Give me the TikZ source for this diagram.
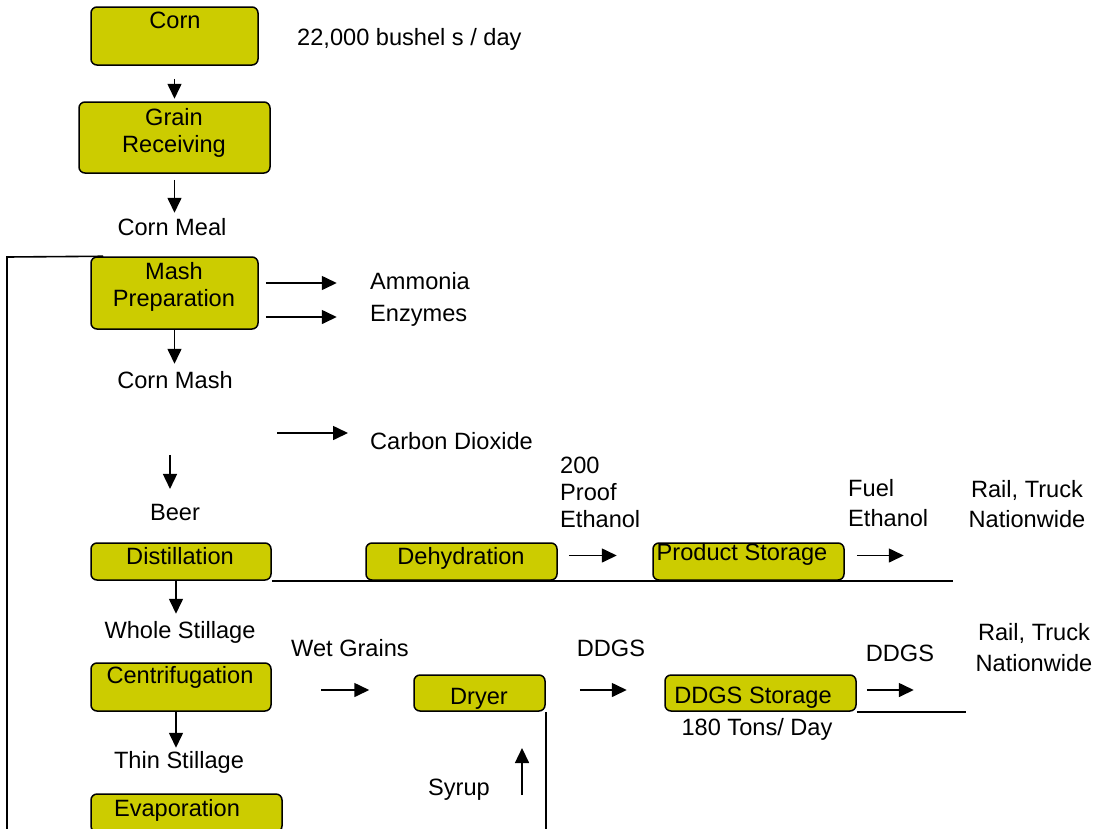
\documentclass[tikz,border=0pt]{standalone}
\usepackage{fontspec}
\setmainfont{Liberation Sans}
\usetikzlibrary{arrows.meta}
\definecolor{boxfill}{RGB}{204,204,0}
\tikzset{%
    blk/.style={rectangle, draw, fill=boxfill, line width=1.5pt, rounded corners=6pt, inner sep=0pt},
    txt/.style={inner sep=0pt, font=\fontsize{23.6}{27}\selectfont},
    lbl/.style={txt, text height=17pt, text depth=4.7pt},
    lin/.style={line width=1.6pt},
    arw/.style={line width=1.6pt, -{Triangle[length=15pt, width=14pt]}},
}

\begin{document}
\begin{tikzpicture}[x=1pt, y=-1pt]
    \useasboundingbox (0,0) rectangle (1100,828);
    \clip (0,0) rectangle (1100,828);
    % process boxes
    \node[blk, minimum width=167, minimum height=58] (corn) at (174.5,36) {};
    \node[blk, minimum width=191, minimum height=71] (grain) at (174.5,137.5) {};
    \node[blk, minimum width=167, minimum height=72] (mash) at (174.5,293) {};
    \node[blk, minimum width=180, minimum height=37] (distil) at (181,561.5) {};
    \node[blk, minimum width=191, minimum height=37] (dehyd) at (461.5,561.5) {};
    \node[blk, minimum width=191, minimum height=37] (prod) at (748.5,561.5) {};
    \node[blk, minimum width=180, minimum height=48] (centrif) at (181,687) {};
    \node[blk, minimum width=191, minimum height=38] (evap) at (186.5,813) {};
    \node[blk, minimum width=131, minimum height=36] (dryer) at (479.5,693) {};
    \node[blk, minimum width=191, minimum height=36] (ddgsst) at (760.5,693) {};
    % box texts
    \node[lbl] (cornlbl) at (175,22) {Corn};
    \node[txt, align=center] (grainlbl) at (174,133) {Grain\\Receiving};
    \node[txt, align=center] (mashlbl) at (174,287) {Mash\\Preparation};
    \node[lbl] (distillbl) at (180,558) {Distillation};
    \node[lbl] (dehydlbl) at (461,558) {Dehydration};
    \node[lbl] (prodlbl) at (742,554) {Product Storage};
    \node[lbl] (centriflbl) at (180,677) {Centrifugation};
    \node[lbl] (evaplbl) at (177,810) {Evaporation};
    \node[lbl] (dryerlbl) at (479,698) {Dryer};
    \node[lbl] (ddgsstlbl) at (753,697) {DDGS Storage};
    % stream texts
    \node[lbl, anchor=west] (rate) at (297,39) {22,000 bushel s / day};
    \node[lbl] (meal) at (172,229) {Corn Meal};
    \node[lbl, anchor=west] (amm) at (370,283) {Ammonia};
    \node[lbl, anchor=west] (enz) at (370,315) {Enzymes};
    \node[lbl] (cmash) at (175,382) {Corn Mash};
    \node[lbl, anchor=west] (co2) at (370,443) {Carbon Dioxide};
    \node[lbl] (beer) at (175,514) {Beer};
    \node[txt, align=left, anchor=west] (proof) at (560,492) {200\\Proof\\Ethanol};
    \node[txt, align=left, anchor=west] (fuel) at (848,503) {Fuel\\[3pt]Ethanol};
    \node[txt, align=center] (ship1) at (1027,504) {Rail, Truck\\[3pt]Nationwide};
    \node[lbl] (whole) at (180,632) {Whole Stillage};
    \node[lbl] (wet) at (350,650) {Wet Grains};
    \node[lbl] (ddgs1) at (611,650) {DDGS};
    \node[lbl] (ddgs2) at (900,655) {DDGS};
    \node[txt, align=center] (ship2) at (1034,648) {Rail, Truck\\[4pt]Nationwide};
    \node[lbl] (tons) at (757,729) {180 Tons/ Day};
    \node[lbl] (thin) at (179,762) {Thin Stillage};
    \node[lbl] (syrup) at (459,789) {Syrup};
    \coordinate (lp) at (7,257);
    % flows
    \draw[arw] ([yshift=-13]corn.south) -- ++(0,20);
    \draw[arw] ([yshift=-6]grain.south) -- ++(0,33);
    \draw[arw] (mash.south) -- ++(0,34);
    \draw[arw] ([xshift=7]mash.east |- amm) -- ++(71,0);
    \draw[arw] ([xshift=7,yshift=-2]mash.east |- enz) -- ++(71,0);
    \draw[arw] ([xshift=-93,yshift=10]co2.west) -- ++(71,0);
    \draw[arw] ([xshift=-5,yshift=48]beer.north) -- ++(0,34);
    \draw[arw] ([xshift=-5]distil.south) -- ++(0,33);
    \draw[arw] ([xshift=-5]centrif.south) -- ++(0,36);
    \draw[arw] ([xshift=-92,yshift=3]dryer.west) -- ++(48,0);
    \draw[arw] ([xshift=32,yshift=-6]syrup.east) -- ++(0,-47);
    \draw[arw] ([xshift=11,yshift=6]dehyd.east) -- ++(48,0);
    \draw[arw] ([xshift=12,yshift=6]prod.east) -- ++(47,0);
    \draw[arw] ([xshift=34,yshift=3]dryer.east) -- ++(47,0);
    \draw[arw] ([xshift=10,yshift=3]ddgsst.east) -- ++(47,0);
    % lines
    \draw[lin] (distil.south east) -- ++(681,0);
    \draw[lin] (ddgsst.south east) -- ++(109,0);
    \draw[lin] (dryer.south east) -- ++(0,130);
    \draw[lin] ([xshift=13]mash.north west) -- (lp) -- ++(0,580);
\end{tikzpicture}
\end{document}
